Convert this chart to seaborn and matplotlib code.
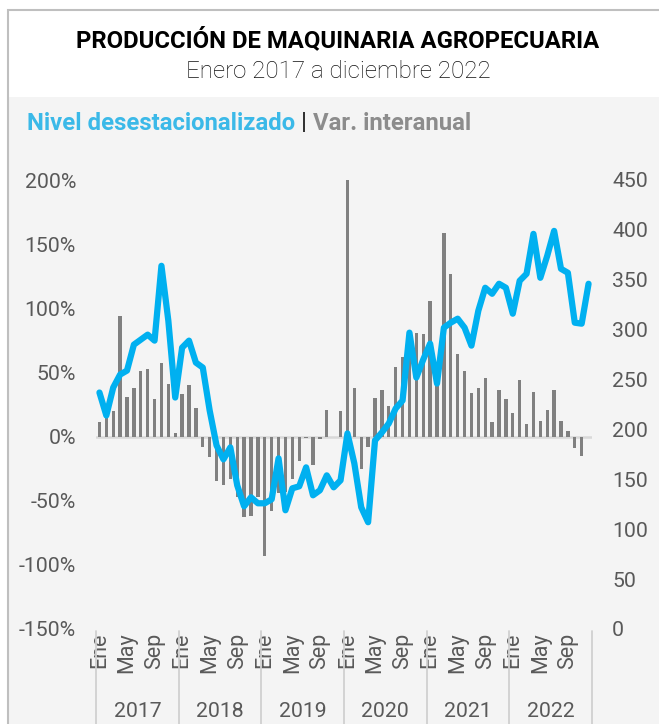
import matplotlib
matplotlib.use("Agg")
import matplotlib.pyplot as plt
import matplotlib.transforms as mtransforms
from matplotlib.patches import Rectangle
import seaborn as sns
import pandas as pd

# ---------------- data ----------------
years = ["2017", "2018", "2019", "2020", "2021", "2022"]
month_ticks = ["Ene", "May", "Sep"]

var_interanual = [
    11, 15, 20, 94, 31, 38, 51, 53, 29, 57, 41, 3,          # 2017
    33, 40, 22, -8, -16, -35, -38, -33, -47, -63, -62, -47,  # 2018
    -93, -58, -44, -43, -33, -19, -1, -22, -2, 21, -0.5, 20, # 2019
    200, 38, -25, -8, 30, 36, 24, 54, 62, 75, 81, 80,        # 2020
    106, 48, 159, 127, 64, 51, 34, 38, 46, 11, 36, 29,       # 2021
    18, 44, 10, 35, 12, 21, 36, 12, 4, -9, -15, -0.5,        # 2022
]

nivel_desest = [
    237, 214, 242, 255, 259, 285, 290, 295, 289, 364, 309, 232,  # 2017
    282, 289, 267, 262, 219, 184, 170, 182, 144, 123, 132, 126,  # 2018
    126, 130, 171, 119, 141, 143, 162, 134, 139, 154, 142, 149,  # 2019
    196, 166, 122, 107, 189, 197, 206, 221, 229, 297, 252, 270,  # 2020
    286, 246, 302, 307, 311, 302, 284, 319, 342, 336, 346, 342,  # 2021
    316, 349, 356, 396, 352, 374, 399, 361, 357, 307, 306, 346,  # 2022
]

left_ticks = [-150, -100, -50, 0, 50, 100, 150, 200]
right_ticks = [0, 50, 100, 150, 200, 250, 300, 350, 400, 450]

title = "PRODUCCIÓN DE MAQUINARIA AGROPECUARIA"
subtitle = "Enero 2017 a diciembre 2022"
legend_parts = ["Nivel desestacionalizado", " | ", "Var. interanual"]

# ---------------- figure ----------------
W, H = 659, 724
sns.set_style("white")
plt.rcParams["font.family"] = ["Roboto", "DejaVu Sans"]

fig = plt.figure(figsize=(W / 100, H / 100), dpi=100)
fig.patch.set_facecolor("white")

# panel background and frame (frame continues past the right/bottom edge)
fig.add_artist(Rectangle((8 / W, 0), 1.0, (H - 97) / H,
                         transform=fig.transFigure, facecolor="#f4f4f4",
                         edgecolor="none", zorder=0))
fig.add_artist(Rectangle((8 / W, -0.01), (670 - 8) / W, (H - 10) / H + 0.01,
                         transform=fig.transFigure, fill=False,
                         edgecolor="#bfbfbf", lw=1.5, zorder=1, clip_on=False))

cx = 338 / W
fig.text(cx, 1 - 40 / H, title, ha="center", va="center",
         fontsize=17.2, fontweight="bold", color="black")
fig.text(cx, 1 - 71 / H, subtitle, ha="center", va="center",
         fontsize=17.4, fontweight="light", color="#111111")

# multicolour legend line
renderer = fig.canvas.get_renderer()
x_pos = 27 / W
leg_colors = ["#3bb9e8", "#333333", "#8c8c8c"]
for part, col in zip(legend_parts, leg_colors):
    t = fig.text(x_pos, 1 - 123 / H, part, ha="left", va="center",
                 fontsize=17.2, fontweight="bold", color=col)
    bb = t.get_window_extent(renderer=renderer)
    x_pos += bb.width / W

# ---------------- axes ----------------
ax = fig.add_axes([96 / W, (H - 629) / H, (592 - 96) / W, (629 - 180) / H])
ax.set_facecolor("none")

n = len(var_interanual)
idx = list(range(n))
df = pd.DataFrame({"mes": idx, "var": var_interanual, "nivel": nivel_desest})

ax.axhline(0, color="#d9d9d9", lw=1.8, zorder=0)
sns.barplot(data=df, x="mes", y="var", color="#808080", saturation=1,
            width=0.48, linewidth=0, ax=ax, zorder=2)
ax.set_xlim(-0.5, n - 0.5)
ax.set_ylim(-150, 200)
ax.set_yticks(left_ticks)
ax.set_yticklabels([f"{v}%" for v in left_ticks])
ax.set_xlabel("")
ax.set_ylabel("")

tick_pos = [12 * y + m for y in range(len(years)) for m in (0, 4, 8)]
ax.set_xticks(tick_pos)
ax.set_xticklabels(month_ticks * len(years), rotation=90, va="top", ha="center")
ax.tick_params(axis="x", length=0, pad=2.5, labelsize=15.5, labelcolor="#595959")
ax.tick_params(axis="y", length=0, pad=14.4, labelsize=15.3, labelcolor="#595959")
for s in ax.spines.values():
    s.set_visible(False)

# year separators and labels
trans = mtransforms.blended_transform_factory(ax.transData, ax.transAxes)
for k in range(len(years) + 1):
    ax.plot([12 * k - 0.5, 12 * k - 0.5], [-0.005, -0.22], transform=trans,
            color="#d0d0d0", lw=1.3, clip_on=False)
for k, yr in enumerate(years):
    ax.text(12 * k + 5.5, -0.183, yr, transform=trans, ha="center",
            va="center", fontsize=15.3, color="#595959")

ax2 = ax.twinx()
sns.lineplot(data=df, x="mes", y="nivel", color="#00b0f0", lw=4.5, ax=ax2,
             solid_joinstyle="round", solid_capstyle="round")
ax2.set_ylim(0, 450)
ax2.set_yticks(right_ticks)
ax2.set_yticklabels([str(v) for v in right_ticks])
ax2.set_xlim(-0.5, n - 0.5)
ax2.set_ylabel("")
ax2.set_xlabel("")
ax2.tick_params(axis="y", length=0, pad=14.4, labelsize=15.3, labelcolor="#595959")
for s in ax2.spines.values():
    s.set_visible(False)

fig.savefig("out.png", dpi=100, facecolor=fig.get_facecolor())
